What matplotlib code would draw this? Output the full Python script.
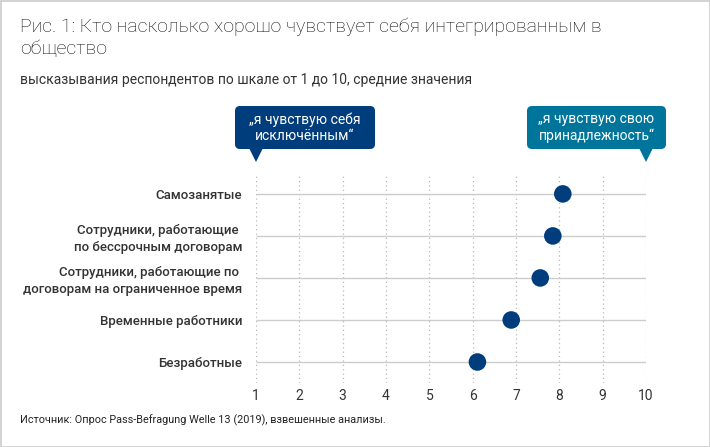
import matplotlib
matplotlib.use("Agg")
import matplotlib.pyplot as plt
from matplotlib.patches import FancyBboxPatch, Polygon, Rectangle

plt.rcParams['font.family'] = ['Roboto', 'DejaVu Sans']

categories = [
    "Самозанятые",
    "Сотрудники, работающие \nпо бессрочным договорам",
    "Сотрудники, работающие по \nдоговорам на ограниченное время",
    "Временные работники",
    "Безработные",
]
values = [8.08, 7.85, 7.56, 6.89, 6.11]
xticks = list(range(1, 11))

title = "Рис. 1: Кто насколько хорошо чувствует себя интегрированным в\nобщество"
subtitle = "высказывания респондентов по шкале от 1 до 10, средние значения"
source = "Источник: Опрос Pass-Befragung Welle 13 (2019), взвешенные анализы."
callout_left = "„я чувствую себя\nисключённым“"
callout_right = "„я чувствую свою\nпринадлежность“"

W, H = 710, 447
fig = plt.figure(figsize=(W / 100, H / 100), dpi=100)

ax_l, ax_r, ax_t, ax_b = 256, 646, 175, 383
ax = fig.add_axes([ax_l / W, 1 - ax_b / H, (ax_r - ax_l) / W, (ax_b - ax_t) / H])
ypos = list(range(len(categories)))
ax.set_xlim(1, 10)
ax.set_ylim(4.5, -0.45)
for x in xticks:
    ax.axvline(x, color="#b8b8b8", lw=0.9, ls=(0, (1, 2.5)), zorder=1)
for y in ypos:
    ax.plot([1, 10], [y, y], color="#cccccc", lw=1.0, zorder=1, solid_capstyle="butt")
ax.scatter(values, ypos, s=160, color="#003d7c", zorder=3, edgecolors="none", clip_on=False)
for s in ax.spines.values():
    s.set_visible(False)
ax.set_xticks(xticks)
ax.set_xticklabels([str(x) for x in xticks], fontsize=10, color="#333333")
ax.set_yticks(ypos)
ax.set_yticklabels(categories, fontsize=9.5, color="#333333", fontweight="medium",
                   linespacing=1.35)
ax.tick_params(axis="both", length=0)
ax.tick_params(axis="x", pad=4)
ax.tick_params(axis="y", pad=10)

# overlay in pixel coordinates
ov = fig.add_axes([0, 0, 1, 1], zorder=5)
ov.set_xlim(0, W)
ov.set_ylim(H, 0)
ov.axis("off")
ov.patch.set_alpha(0)

ov.add_patch(Rectangle((0.5, 0.5), W - 1, H - 1, fill=False, ec="#cccccc", lw=1.2))

fig.text(20 / W, 1 - 18 / H, title, fontsize=14, fontweight="light", color="#111111",
         va="top", ha="left", linespacing=1.22)
fig.text(20 / W, 1 - 73 / H, subtitle, fontsize=10, color="#333333", va="top", ha="left")
fig.text(20 / W, 1 - 414 / H, source, fontsize=7.8, color="#222222", va="top", ha="left")


def xpix(v):
    return ax_l + (v - 1) / 9 * (ax_r - ax_l)


def callout(x0, x1, tipx, color, text):
    y0, y1 = 106, 149
    ov.add_patch(FancyBboxPatch((x0, y0), x1 - x0, y1 - y0,
                                boxstyle="round,pad=0,rounding_size=5",
                                fc=color, ec="none"))
    ov.add_patch(Polygon([(tipx - 7, y1 - 1), (tipx + 7, y1 - 1), (tipx, 162)],
                         closed=True, fc=color, ec="none"))
    ov.text((x0 + x1) / 2, (y0 + y1) / 2, text, color="white", fontsize=10,
            ha="center", va="center", linespacing=1.2)


callout(235, 375, xpix(1), "#003d7c", callout_left)
callout(527, 666, xpix(10), "#00759c", callout_right)

fig.savefig("out.png", dpi=100)
